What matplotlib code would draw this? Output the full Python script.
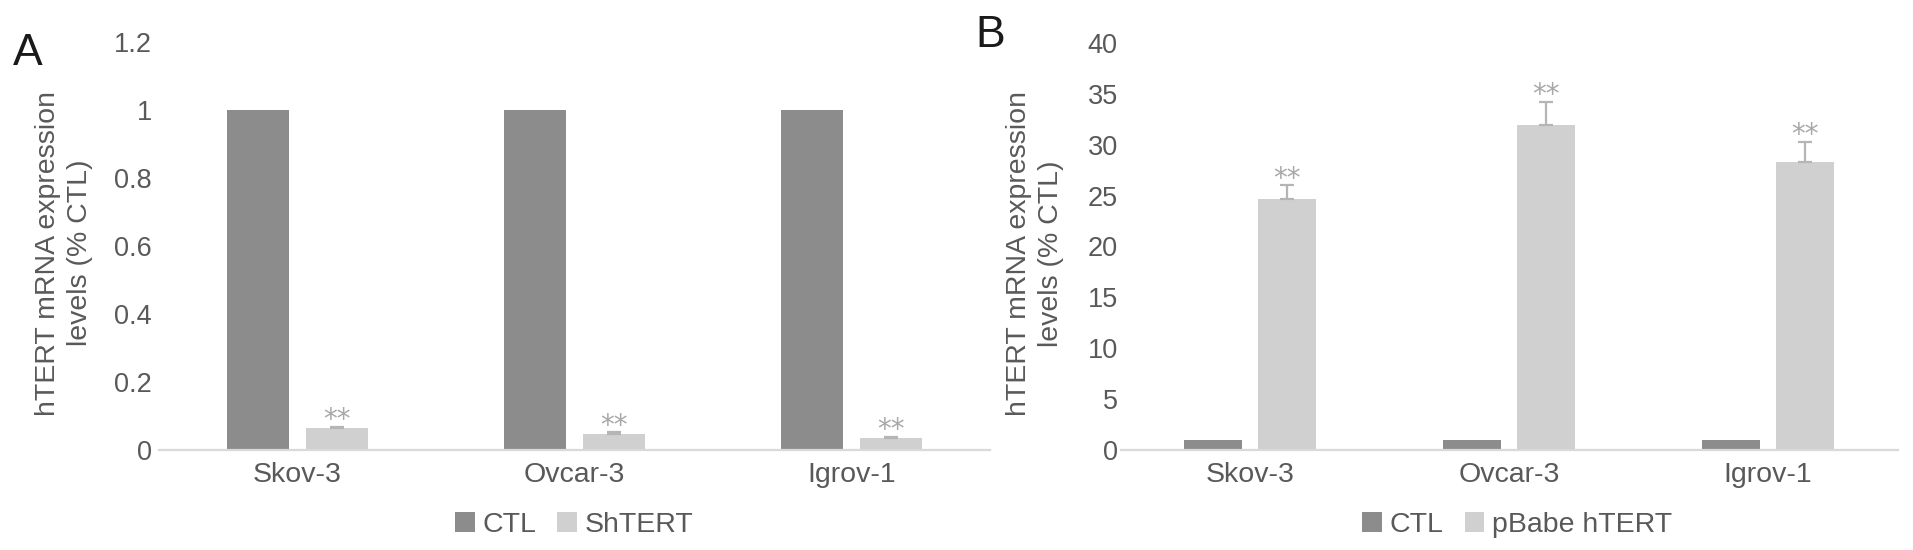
import matplotlib
matplotlib.use("Agg")
import matplotlib.pyplot as plt
import numpy as np

# données
categories = ["Skov-3", "Ovcar-3", "Igrov-1"]

a_ctl = [1.0, 1.0, 1.0]
a_sh = [0.065, 0.047, 0.034]
a_sh_err = [0.004, 0.005, 0.004]
a_ticks = [0, 0.2, 0.4, 0.6, 0.8, 1, 1.2]
a_ticklabels = ["0", "0.2", "0.4", "0.6", "0.8", "1", "1.2"]

b_ctl = [1.0, 1.0, 1.0]
b_pbabe = [24.7, 31.9, 28.3]
b_pbabe_err = [1.3, 2.3, 2.0]
b_ticks = [0, 5, 10, 15, 20, 25, 30, 35, 40]

dark = "#8c8c8c"
light = "#d0d0d0"
txt = "#595959"

plt.rcParams["font.family"] = ["Liberation Sans", "DejaVu Sans"]

W, H = 1913, 550
fig = plt.figure(figsize=(W / 100, H / 100), dpi=100)


def panneau(rect, ctl, val, err, ylim, ticks, ticklabels, leg_label, leg_x, tick_pad):
    ax = fig.add_axes(rect)
    x = np.arange(len(categories))
    larg = 0.225
    ax.bar(x - 0.143, ctl, larg, color=dark, label="CTL", zorder=2)
    ax.bar(x + 0.143, val, larg, color=light, label=leg_label, zorder=2)
    ax.errorbar(x + 0.143, val, yerr=[np.zeros(len(err)), err], fmt="none",
                ecolor="#b5b5b5", elinewidth=1.6, capsize=4.7, capthick=1.6, zorder=3)
    # étoiles de significativité
    for xi, v, e in zip(x, val, err):
        ax.annotate("**", xy=(xi + 0.143, v + e), xytext=(0, -1),
                    textcoords="offset points", ha="center", va="baseline",
                    fontsize=20, color="#a8a8a8", family="DejaVu Sans")
    ax.set_xlim(-0.5, 2.5)
    ax.set_ylim(*ylim)
    ax.set_xticks(x)
    ax.set_xticklabels(categories, fontsize=20.5, color=txt)
    ax.set_yticks(ticks)
    ax.set_yticklabels(ticklabels, fontsize=19.5, color=txt)
    ax.tick_params(axis="x", length=0, pad=8.5)
    ax.tick_params(axis="y", length=0, pad=tick_pad)
    for s in ["top", "right", "left"]:
        ax.spines[s].set_visible(False)
    ax.spines["bottom"].set_color("#d9d9d9")
    ax.spines["bottom"].set_linewidth(1.6)
    ax.legend(loc="center", bbox_to_anchor=(leg_x, 0.045), bbox_transform=fig.transFigure,
              ncol=2, frameon=False, fontsize=20.5, labelcolor=txt,
              handlelength=0.7, handleheight=0.7, handletextpad=0.25, columnspacing=0.75)
    return ax


ax1 = panneau([159 / W, 100 / H, 831 / W, 408 / H], a_ctl, a_sh, a_sh_err, (0, 1.2),
              a_ticks, a_ticklabels, "ShTERT", 574 / W, 5)
ax2 = panneau([1120.5 / W, 100 / H, 777 / W, 407 / H], b_ctl, b_pbabe, b_pbabe_err, (0, 40),
              b_ticks, [str(t) for t in b_ticks], "pBabe hTERT", 1517 / W, 2)

ylab = "hTERT mRNA expression\nlevels (% CTL)"
fig.text(64 / W, (550 - 253) / H, ylab, rotation=90, ha="center", va="center",
         multialignment="center", fontsize=20.5, color=txt, linespacing=1.3)
fig.text(1035 / W, (550 - 254) / H, ylab, rotation=90, ha="center", va="center",
         multialignment="center", fontsize=20.5, color=txt, linespacing=1.3)

fig.text(13 / W, (550 - 65) / H, "A", fontsize=32, color="#1a1a1a", ha="left", va="baseline")
fig.text(975 / W, (550 - 47) / H, "B", fontsize=32, color="#1a1a1a", ha="left", va="baseline")

fig.savefig("out.png", dpi=100)
